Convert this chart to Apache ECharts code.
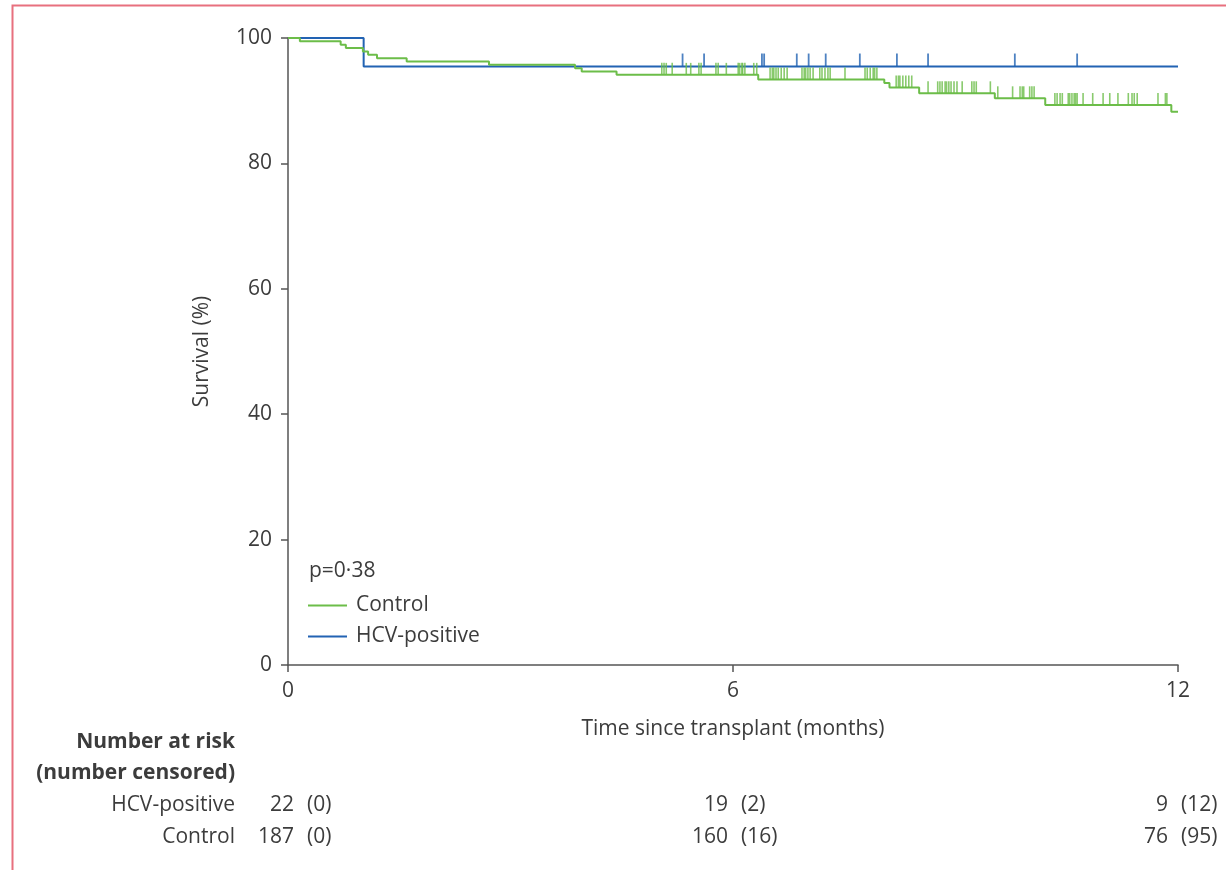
<!DOCTYPE html>
<html>
<head>
<meta charset="utf-8">
<script src="https://cdn.jsdelivr.net/npm/echarts@6/dist/echarts.min.js"></script>
<style>
  html, body { margin: 0; padding: 0; background: #fff; }
  #main { width: 1226px; height: 870px; }
</style>
</head>
<body>
<div id="main"></div>
<script>
// survival curves (months, %)
const hcvTimes = [0, 1.02, 12];
const hcvSurvival = [100, 95.45, 95.45];
const hcvCensored = [5.32, 5.61, 6.39, 6.42, 6.86, 7.02, 7.25, 7.71, 8.21, 8.63, 9.80, 10.64];

const controlTimes = [0, 0.16, 0.71, 0.78, 1.01, 1.08, 1.20, 1.60, 2.71, 3.87, 3.96, 4.43,
  6.34, 8.04, 8.11, 8.51, 9.53, 10.21, 11.91, 12];
const controlSurvival = [100, 99.47, 98.93, 98.40, 97.86, 97.33, 96.79, 96.26, 95.72, 95.19, 94.65, 94.12,
  93.38, 92.82, 92.11, 91.18, 90.38, 89.31, 88.25, 88.25];
const controlCensored = [5.04, 5.07, 5.10, 5.18, 5.37, 5.43, 5.54, 5.57, 5.77, 5.80, 5.91,
  6.07, 6.09, 6.12, 6.13, 6.16, 6.28, 6.32,
  6.50, 6.53, 6.55, 6.58, 6.61, 6.65, 6.69, 6.73, 6.93, 6.96, 6.98, 7.01, 7.04, 7.08,
  7.17, 7.20, 7.24, 7.28, 7.31, 7.51, 7.78, 7.81, 7.85, 7.89, 7.91, 7.94,
  8.20, 8.23, 8.25, 8.29, 8.33, 8.37, 8.41,
  8.63, 8.76, 8.79, 8.82, 8.86, 8.88, 8.91, 8.94, 8.98, 9.02, 9.09, 9.22, 9.25, 9.28, 9.47,
  9.57, 9.77, 9.87, 9.90, 9.92, 10.00, 10.03, 10.06,
  10.34, 10.37, 10.41, 10.44, 10.52, 10.54, 10.57, 10.60, 10.62, 10.64, 10.72, 10.85,
  10.99, 11.08, 11.19, 11.33, 11.38, 11.41, 11.45, 11.73, 11.83, 11.85];

// number at risk table
const riskTimes = [0, 6, 12];
const hcvAtRisk = [22, 19, 9];
const hcvNumCensored = [0, 2, 12];
const controlAtRisk = [187, 160, 76];
const controlNumCensored = [0, 16, 95];

const GREEN = '#6cbd49';
const BLUE = '#2263b3';
const TEXT = '#3c3c3c';
const FONT = 'Open Sans';
const FS = 21;

function pairs(xs, ys) { return xs.map((x, i) => [x, ys[i]]); }
function survAt(times, surv, t) {
  let s = surv[0];
  for (let i = 0; i < times.length; i++) { if (times[i] <= t) s = surv[i]; }
  return s;
}
function ticks(cens, times, surv) { return cens.map(t => [t, survAt(times, surv, t)]); }

const chart = echarts.init(document.getElementById('main'));

const option = {
  animation: false,
  textStyle: { fontFamily: FONT },
  grid: { left: 288, right: 48, top: 38, bottom: 205 },
  xAxis: {
    type: 'value', min: 0, max: 12, interval: 6,
    name: 'Time since transplant (months)', nameLocation: 'middle', nameGap: 54,
    nameTextStyle: { fontSize: FS, color: TEXT, fontFamily: FONT },
    axisLine: { lineStyle: { color: '#555', width: 1.5 } },
    axisTick: { length: 7, lineStyle: { color: '#555', width: 1.5 } },
    axisLabel: { fontSize: FS, color: TEXT, margin: 16 },
    splitLine: { show: false }
  },
  yAxis: {
    type: 'value', min: 0, max: 100, interval: 20,
    name: 'Survival (%)', nameLocation: 'middle', nameGap: 75, nameRotate: 90,
    nameTextStyle: { fontSize: FS, color: TEXT, fontFamily: FONT },
    axisLine: { show: true, lineStyle: { color: '#555', width: 1.5 } },
    axisTick: { show: true, length: 7, lineStyle: { color: '#555', width: 1.5 } },
    axisLabel: { fontSize: FS, color: TEXT, margin: 16 },
    splitLine: { show: false }
  },
  legend: {
    data: ['Control', 'HCV-positive'],
    orient: 'vertical', left: 308, top: 595, padding: 0,
    icon: 'rect', itemWidth: 39, itemHeight: 2, itemGap: 10,
    textStyle: { fontSize: FS, color: TEXT, fontFamily: FONT, padding: [0, 0, 0, 4] }
  },
  series: [
    {
      name: 'Control', type: 'line', step: 'end', symbol: 'none',
      data: pairs(controlTimes, controlSurvival),
      lineStyle: { color: GREEN, width: 2 }, itemStyle: { color: GREEN }, z: 3
    },
    {
      name: 'HCV-positive', type: 'line', step: 'end', symbol: 'none',
      data: pairs(hcvTimes, hcvSurvival),
      lineStyle: { color: BLUE, width: 2 }, itemStyle: { color: BLUE }, z: 2
    },
    {
      name: 'Control censored', type: 'scatter', symbol: 'rect',
      symbolSize: [1.6, 12], symbolOffset: [0, -6],
      data: ticks(controlCensored, controlTimes, controlSurvival),
      itemStyle: { color: GREEN }, z: 3
    },
    {
      name: 'HCV censored', type: 'scatter', symbol: 'rect',
      symbolSize: [1.8, 13], symbolOffset: [0, -6.5],
      data: ticks(hcvCensored, hcvTimes, hcvSurvival),
      itemStyle: { color: BLUE }, z: 2
    }
  ]
};
chart.setOption(option);

// risk table + annotations
const txt = (x, y, text, align, bold) => ({
  type: 'text', x: x, y: y,
  style: { text: text, fill: TEXT, font: (bold ? 'bold ' : '') + FS + 'px ' + FONT, textAlign: align, textVerticalAlign: 'middle' }
});
const graphics = [
  { type: 'polyline', shape: { points: [[12.5, 870], [12.5, 5.5], [1226, 5.5]] }, style: { stroke: '#e8707e', lineWidth: 2, fill: null } },
  txt(309, 571, 'p=0·38', 'left', false),
  txt(235, 742, 'Number at risk', 'right', true),
  txt(235, 773, '(number censored)', 'right', true),
  txt(235, 805, 'HCV-positive', 'right', false),
  txt(235, 837, 'Control', 'right', false)
];
const numOffset = [6, -5, -10];
const parenOffset = [19, 8, 3];
riskTimes.forEach((t, i) => {
  const px = chart.convertToPixel({ xAxisIndex: 0 }, t);
  graphics.push(txt(px + numOffset[i], 805, String(hcvAtRisk[i]), 'right', false));
  graphics.push(txt(px + parenOffset[i], 805, '(' + hcvNumCensored[i] + ')', 'left', false));
  graphics.push(txt(px + numOffset[i], 837, String(controlAtRisk[i]), 'right', false));
  graphics.push(txt(px + parenOffset[i], 837, '(' + controlNumCensored[i] + ')', 'left', false));
});
chart.setOption({ graphic: graphics });
</script>
</body>
</html>
